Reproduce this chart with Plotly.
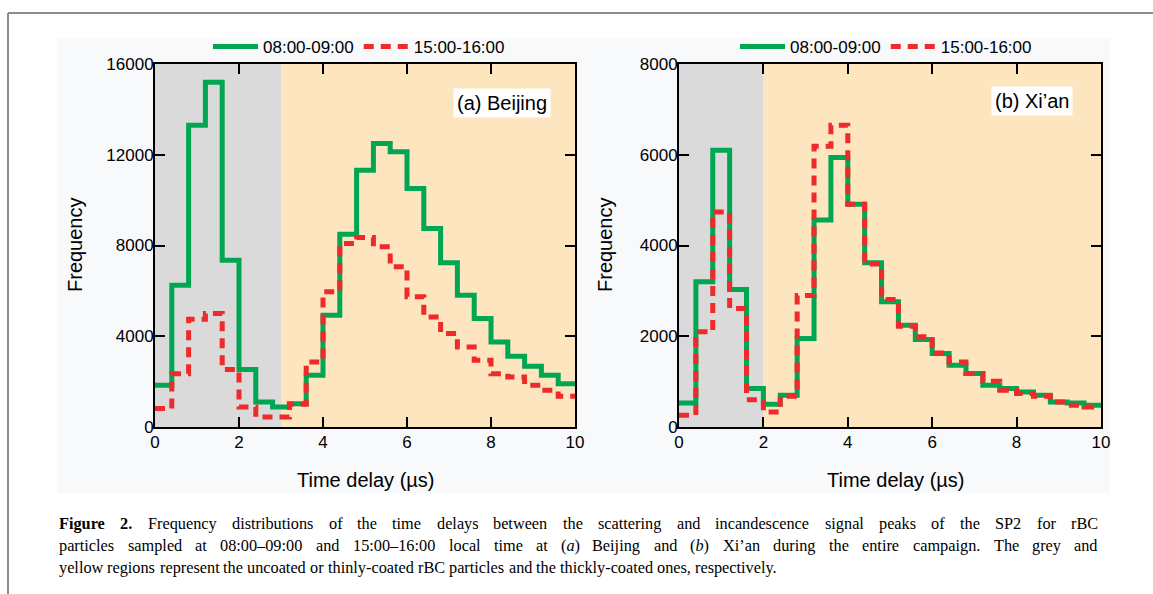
import re
import plotly.graph_objects as go

# ---------------- data ----------------
time_edges = [0.0, 0.4, 0.8, 1.2, 1.6, 2.0, 2.4, 2.8, 3.2, 3.6, 4.0, 4.4, 4.8,
              5.2, 5.6, 6.0, 6.4, 6.8, 7.2, 7.6, 8.0, 8.4, 8.8, 9.2, 9.6, 10.0]

beijing_morning = [1840, 6250, 13300, 15200, 7350, 2530, 1100, 880, 1030, 2280,
                   4930, 8500, 11320, 12500, 12130, 10510, 8750, 7240, 5810, 4780,
                   3750, 3120, 2680, 2280, 1910]
beijing_afternoon = [810, 2350, 4750, 5000, 2530, 880, 440, 440, 1000, 2870,
                     5960, 8090, 8350, 7940, 7060, 5740, 4850, 4120, 3530, 2940,
                     2350, 2200, 1840, 1620, 1350]

xian_morning = [530, 3200, 6100, 3030, 850, 500, 700, 1950, 4560, 5940,
                4910, 3620, 2760, 2240, 1930, 1620, 1360, 1180, 920, 850,
                770, 700, 550, 530, 480]
xian_afternoon = [260, 2100, 4740, 2610, 600, 330, 680, 2900, 6190, 6650,
                  4910, 3590, 2810, 2220, 1990, 1630, 1430, 1180, 1010, 810,
                  740, 680, 550, 480, 440]

series_names = ["08:00-09:00", "15:00-16:00"]
beijing_yticks = [0, 4000, 8000, 12000, 16000]
xian_yticks = [0, 2000, 4000, 6000, 8000]
x_ticks = [0, 2, 4, 6, 8, 10]
beijing_split = 3
xian_split = 2

caption_lines = [
    "<b>Figure</b> <b>2.</b> Frequency distributions of the time delays between the scattering and incandescence signal peaks of the SP2 for rBC",
    "particles sampled at 08:00–09:00 and 15:00–16:00 local time at (<i>a</i>) Beijing and (<i>b</i>) Xi’an during the entire campaign. The grey and",
    "yellow regions represent the uncoated or thinly-coated rBC particles and the thickly-coated ones, respectively.",
]
caption_justified = [True, True, False]

# ---------------- style ----------------
W, H = 1153, 594
GREEN = "#00a651"
RED = "#ee2a2a"
GREY = "#dadada"
YELLOW = "#fde5bf"
SANS = "Liberation Sans, Arial, sans-serif"
SERIF = "Liberation Serif, Times New Roman, serif"
CAP_SIZE = 16.3
CAP_LEFT, CAP_RIGHT = 58, 1097

def px_x(p):
    return p / W

def px_y(p):
    return 1 - p / H

dom_a = [px_x(155), px_x(575)]
dom_b = [px_x(679), px_x(1101)]
dom_y = [px_y(427), px_y(64)]

# Times-metric character widths (1/1000 em) for caption layout
REG = {" ": 250, "a": 444, "b": 500, "c": 444, "d": 500, "e": 444, "f": 333, "g": 500,
       "h": 500, "i": 278, "j": 278, "k": 500, "l": 278, "m": 778, "n": 500, "o": 500,
       "p": 500, "q": 500, "r": 333, "s": 389, "t": 278, "u": 500, "v": 500, "w": 722,
       "x": 500, "y": 500, "z": 444, "B": 667, "C": 667, "F": 556, "P": 556, "S": 556,
       "T": 611, "X": 722, ".": 250, ",": 250, ":": 278, "-": 333, "–": 500, "’": 333,
       "(": 333, ")": 333}
BOLD = {"F": 611, "i": 278, "g": 500, "u": 556, "r": 444, "e": 444, "2": 500, ".": 250}

def word_width(w):
    bold = "<b>" in w
    plain = re.sub(r"<[^>]+>", "", w)
    tbl = BOLD if bold else REG
    return sum(tbl.get(ch, REG.get(ch, 500)) for ch in plain) * CAP_SIZE / 1000.0

fig = go.Figure()

def step(vals):
    return list(vals) + [vals[-1]]

DASH = "10px,7px"
fig.add_trace(go.Scatter(x=time_edges, y=step(beijing_morning), mode="lines", line_shape="hv",
                         line=dict(color=GREEN, width=5), name=series_names[0],
                         xaxis="x", yaxis="y", legend="legend"))
fig.add_trace(go.Scatter(x=time_edges, y=step(beijing_afternoon), mode="lines", line_shape="hv",
                         line=dict(color=RED, width=5, dash=DASH), name=series_names[1],
                         xaxis="x", yaxis="y", legend="legend"))
fig.add_trace(go.Scatter(x=time_edges, y=step(xian_morning), mode="lines", line_shape="hv",
                         line=dict(color=GREEN, width=5), name=series_names[0],
                         xaxis="x2", yaxis="y2", legend="legend2"))
fig.add_trace(go.Scatter(x=time_edges, y=step(xian_afternoon), mode="lines", line_shape="hv",
                         line=dict(color=RED, width=5, dash=DASH), name=series_names[1],
                         xaxis="x2", yaxis="y2", legend="legend2"))

axis_common = dict(showline=True, linecolor="black", linewidth=2, mirror="ticks",
                   ticks="inside", ticklen=10, tickwidth=2, tickcolor="black",
                   showgrid=False, zeroline=False, tickformat="d",
                   tickfont=dict(family=SANS, size=17, color="black"), automargin=False)

legend_common = dict(orientation="h", xanchor="center", y=px_y(47), yanchor="middle",
                     bgcolor="rgba(0,0,0,0)", font=dict(family=SANS, size=17, color="black"),
                     itemwidth=45, tracegroupgap=0)

fig.update_layout(
    width=W, height=H,
    margin=dict(l=0, r=0, t=0, b=0),
    paper_bgcolor="white", plot_bgcolor="rgba(0,0,0,0)",
    xaxis=dict(domain=dom_a, range=[0, 10], tickvals=x_ticks, anchor="y",
               ticklabelstandoff=-1, **axis_common),
    yaxis=dict(domain=dom_y, range=[0, 16000], tickvals=beijing_yticks, anchor="x",
               ticklabelstandoff=-4, **axis_common),
    xaxis2=dict(domain=dom_b, range=[0, 10], tickvals=x_ticks, anchor="y2",
                ticklabelstandoff=-1, **axis_common),
    yaxis2=dict(domain=dom_y, range=[0, 8000], tickvals=xian_yticks, anchor="x2",
                ticklabelstandoff=-4, **axis_common),
    legend=dict(x=(dom_a[0] + dom_a[1]) / 2 - px_x(6), **legend_common),
    legend2=dict(x=(dom_b[0] + dom_b[1]) / 2 - px_x(4), **legend_common),
    showlegend=True,
)

shapes = []
shapes.append(dict(type="rect", xref="paper", yref="paper", x0=px_x(57), x1=px_x(1110),
                   y0=px_y(493), y1=px_y(38), fillcolor="#f8f9fb", line=dict(width=0), layer="below"))
shapes.append(dict(type="line", xref="paper", yref="paper", x0=px_x(8), x1=1.0,
                   y0=px_y(13), y1=px_y(13), line=dict(color="#8c8c8c", width=2)))
shapes.append(dict(type="line", xref="paper", yref="paper", x0=px_x(8), x1=px_x(8),
                   y0=0, y1=px_y(13), line=dict(color="#8c8c8c", width=2)))
for xa, ya, split in [("x", "y", beijing_split), ("x2", "y2", xian_split)]:
    shapes.append(dict(type="rect", xref=xa, yref=ya + " domain", x0=0, x1=split, y0=0, y1=1,
                       fillcolor=GREY, line=dict(width=0), layer="below"))
    shapes.append(dict(type="rect", xref=xa, yref=ya + " domain", x0=split, x1=10, y0=0, y1=1,
                       fillcolor=YELLOW, line=dict(width=0), layer="below"))
fig.update_layout(shapes=shapes)

ann = []
ann.append(dict(text="(a) Beijing", xref="x", yref="y", x=8.27, y=14300, showarrow=False,
                font=dict(family=SANS, size=20, color="black"), bgcolor="white", borderpad=3))
ann.append(dict(text="(b) Xi’an", xref="x2", yref="y2", x=8.37, y=7185, showarrow=False,
                font=dict(family=SANS, size=20, color="black"), bgcolor="white", borderpad=3))
for cx in [75, 605]:
    ann.append(dict(text="Frequency", xref="paper", yref="paper", x=px_x(cx), y=px_y(245),
                    textangle=-90, showarrow=False, xanchor="center", yanchor="middle",
                    font=dict(family=SANS, size=20, color="black")))
for cx in [365, 895]:
    ann.append(dict(text="Time delay (µs)", xref="paper", yref="paper", x=px_x(cx), y=px_y(480),
                    showarrow=False, xanchor="center", yanchor="middle",
                    font=dict(family=SANS, size=20, color="black")))

# caption: word-by-word placement to reproduce the justified paragraph
for i, (line, just) in enumerate(zip(caption_lines, caption_justified)):
    words = line.split(" ")
    widths = [word_width(w) for w in words]
    space = REG[" "] * CAP_SIZE / 1000.0
    if just and len(words) > 1:
        gap = (CAP_RIGHT - CAP_LEFT - sum(widths)) / (len(words) - 1)
    else:
        gap = space
    xpos = CAP_LEFT
    for w, wd in zip(words, widths):
        ann.append(dict(text=w, xref="paper", yref="paper", x=px_x(xpos), y=px_y(523 + 22 * i),
                        showarrow=False, xanchor="left", yanchor="middle", align="left",
                        borderpad=0, font=dict(family=SERIF, size=CAP_SIZE, color="black")))
        xpos += wd + gap
fig.update_layout(annotations=ann)

fig.write_html("out.html", config={"displayModeBar": False},
               post_script="document.body.style.margin='0px';")
